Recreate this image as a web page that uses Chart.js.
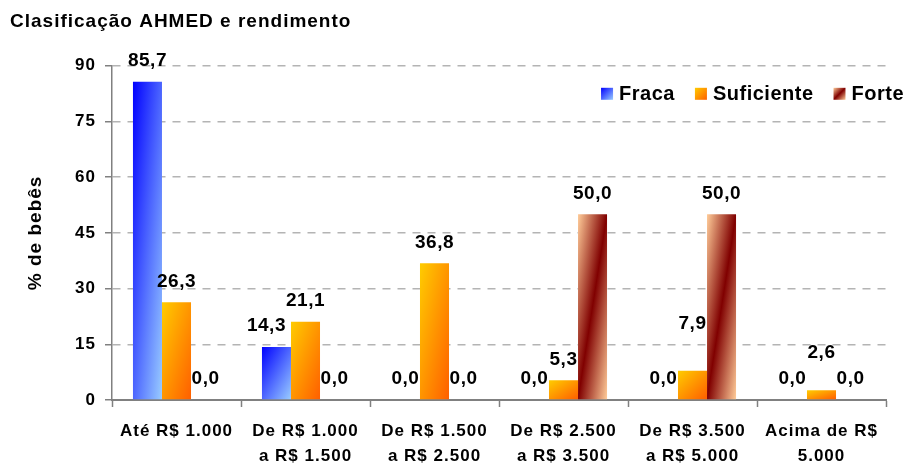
<!DOCTYPE html>
<html><head><meta charset="utf-8">
<script src="https://cdn.jsdelivr.net/npm/chart.js@4.4.1/dist/chart.umd.min.js"></script>
<style>html,body{margin:0;padding:0;background:#fff;}canvas{display:block;}</style>
</head><body>
<canvas id="c" width="907" height="463"></canvas>
<script>
const chartTitle = 'Clasificação AHMED e rendimento';
const yAxisTitle = '% de bebês';
const categories = [
  ['Até R$ 1.000'],
  ['De R$ 1.000', 'a R$ 1.500'],
  ['De R$ 1.500', 'a R$ 2.500'],
  ['De R$ 2.500', 'a R$ 3.500'],
  ['De R$ 3.500', 'a R$ 5.000'],
  ['Acima de R$', '5.000']
];
const seriesNames = ['Fraca', 'Suficiente', 'Forte'];
const fraca = [85.7, 14.3, 0.0, 0.0, 0.0, 0.0];
const suficiente = [26.3, 21.1, 36.8, 5.3, 7.9, 2.6];
const forte = [0.0, 0.0, 0.0, 50.0, 50.0, 0.0];
const yMin = 0, yMax = 90, yStep = 15;

const FONT = "'Liberation Sans', Arial, Helvetica, sans-serif";
const STOPS = [
  [[0, '#0000ff'], [1, '#99ccff']],
  [[0, '#ffcc00'], [1, '#ff5f00']],
  [[0, '#ffcc99'], [0.5, '#800000'], [1, '#ffcc99']]
];

function diagGradient(g, l, t, w, h, stops) {
  const a = 1 / w, b = 1 / h;
  const s = 2 / (a * a + b * b);
  const gr = g.createLinearGradient(l, t, l + s * a, t + s * b);
  stops.forEach(([o, c]) => gr.addColorStop(o, c));
  return gr;
}
function barFill(k) {
  return (c) => {
    const el = c.element;
    const stops = STOPS[k];
    if (!el || !isFinite(el.x) || !isFinite(el.width) || !isFinite(el.base) || Math.abs(el.base - el.y) < 0.5) {
      return stops[0][1];
    }
    const top = Math.min(el.y, el.base), h = Math.abs(el.base - el.y);
    return diagGradient(c.chart.ctx, el.x - el.width / 2, top, el.width, h, stops);
  };
}
function fmt(v) { return v.toFixed(1).replace('.', ','); }

const spacingPlugin = {
  id: 'spacing',
  beforeUpdate(chart) { chart.ctx.letterSpacing = '1px'; },
  beforeDraw(chart) { chart.ctx.letterSpacing = '1px'; }
};

const labelsPlugin = {
  id: 'valueLabels',
  afterDatasetsDraw(chart, args, opts) {
    const ctx = chart.ctx;
    const nudges = (opts && opts.nudges) || {};
    ctx.save();
    ctx.letterSpacing = '0.5px';
    ctx.font = 'bold 19px ' + FONT;
    ctx.fillStyle = '#000';
    ctx.textAlign = 'center';
    ctx.textBaseline = 'middle';
    chart.data.datasets.forEach((ds, i) => {
      const meta = chart.getDatasetMeta(i);
      meta.data.forEach((el, j) => {
        const n = nudges[i + ':' + j] || [0, 0];
        ctx.fillText(fmt(ds.data[j]), el.x + n[0], el.y - 21 + n[1]);
      });
    });
    ctx.restore();
  }
};

const legendPlugin = {
  id: 'gradLegend',
  afterDraw(chart) {
    const ctx = chart.ctx;
    const ca = chart.chartArea;
    ctx.save();
    ctx.letterSpacing = '0.5px';
    ctx.font = 'bold 20px ' + FONT;
    const box = 12, gapText = 6, gapItem = 20;
    const labels = chart.data.datasets.map(d => d.label);
    const widths = labels.map(t => ctx.measureText(t).width);
    const total = widths.reduce((s, w) => s + w + box + gapText, 0) + gapItem * (labels.length - 1);
    let x = chart.width - 3 - total;
    const yc = ca.top + 28;
    ctx.textBaseline = 'middle';
    ctx.textAlign = 'left';
    labels.forEach((t, i) => {
      ctx.fillStyle = diagGradient(ctx, x, yc - box / 2, box, box, STOPS[i]);
      ctx.fillRect(x, yc - box / 2, box, box);
      ctx.fillStyle = '#000';
      ctx.fillText(t, x + box + gapText, yc + 1);
      x += box + gapText + widths[i] + gapItem;
    });
    ctx.restore();
  }
};

const ds = [fraca, suficiente, forte].map((arr, k) => ({
  label: seriesNames[k],
  data: arr,
  backgroundColor: barFill(k),
  borderWidth: 0,
  categoryPercentage: 0.675,
  barPercentage: 1.0
}));

const chart = new Chart(document.getElementById('c'), {
  type: 'bar',
  data: { labels: categories, datasets: ds },
  options: {
    responsive: false,
    animation: false,
    devicePixelRatio: 1,
    layout: { padding: { left: 10, right: 21, top: 0, bottom: 0 } },
    plugins: {
      legend: { display: false },
      tooltip: { enabled: false },
      valueLabels: { nudges: { '0:1': [-10, 0], '1:4': [0, -26], '1:5': [0, -17] } },
      title: {
        display: true,
        text: chartTitle,
        align: 'start',
        color: '#000',
        font: { family: FONT, size: 19, weight: 'bold', lineHeight: 1.2 },
        padding: { top: 10, bottom: 33 }
      }
    },
    scales: {
      x: {
        grid: { display: true, drawOnChartArea: false, drawTicks: true, tickLength: 7, tickColor: '#808080', tickWidth: 1.5, offset: true },
        border: { display: true, color: '#808080', width: 2 },
        ticks: {
          color: '#000', padding: 12, maxRotation: 0, autoSkip: false,
          font: { family: FONT, size: 17, weight: 'bold', lineHeight: '25px' }
        },
        afterFit(scale) { scale.height = 63; }
      },
      y: {
        min: yMin, max: yMax,
        grid: { color: '#b4b4b4', lineWidth: 1.5, tickLength: 7, tickColor: '#808080', tickWidth: 1.5 },
        border: { display: true, color: '#808080', width: 1.5, dash: [8, 7] },
        ticks: {
          stepSize: yStep, color: '#000', padding: 9,
          font: { family: FONT, size: 17, weight: 'bold' }
        },
        title: {
          display: true, text: yAxisTitle, color: '#000',
          font: { family: FONT, size: 19, weight: 'bold' },
          padding: { top: 14, bottom: 0 }
        },
        afterFit(scale) { scale.width = 102; }
      }
    }
  },
  plugins: [spacingPlugin, labelsPlugin, legendPlugin]
});
chart.update('none');
</script>
</body></html>
